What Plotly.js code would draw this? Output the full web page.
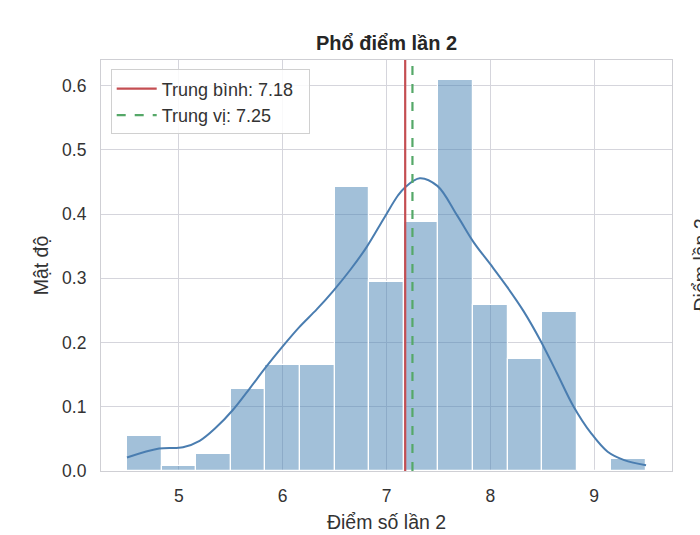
<!DOCTYPE html>
<html>
<head>
<meta charset="utf-8">
<script src="https://cdn.plot.ly/plotly-3.0.1.min.js"></script>
<style>
  html, body { margin: 0; padding: 0; background: #fff; }
  #chart { width: 700px; height: 535px; }
</style>
</head>
<body>
<div id="chart"></div>
<script>
// Phổ điểm lần 2 - histogram (mật độ) + KDE
var binCenters = [4.667, 5.0, 5.333, 5.667, 6.0, 6.333, 6.667, 7.0,
                  7.333, 7.667, 8.0, 8.333, 8.667, 9.0, 9.333];
var binDensity = [0.054, 0.008, 0.027, 0.128, 0.165, 0.165, 0.443, 0.294,
                  0.387, 0.609, 0.258, 0.175, 0.248, 0.0, 0.018];
var binWidth = 1 / 3;

var kdeX = [4.50, 4.81, 5.04, 5.20, 5.36, 5.52, 5.68, 5.84, 6.00, 6.16, 6.33,
            6.49, 6.65, 6.81, 6.97, 7.11, 7.18, 7.32, 7.49, 7.68, 7.84, 8.00,
            8.16, 8.32, 8.48, 8.64, 8.80, 8.97, 9.13, 9.29, 9.50];
var kdeY = [0.021, 0.035, 0.037, 0.047, 0.068, 0.095, 0.128, 0.162, 0.194, 0.224, 0.252,
            0.281, 0.313, 0.349, 0.392, 0.429, 0.442, 0.456, 0.444, 0.398, 0.356, 0.322,
            0.287, 0.249, 0.204, 0.153, 0.101, 0.059, 0.030, 0.017, 0.009];

var meanValue = 7.18;
var medianValue = 7.25;
var yMax = 0.64;

var hist = {
  x: binCenters,
  y: binDensity,
  width: binCenters.map(function () { return binWidth; }),
  type: 'bar',
  showlegend: false,
  hoverinfo: 'x+y',
  marker: {
    color: 'rgba(70, 130, 180, 0.5)',
    line: { color: '#ffffff', width: 1.2 }
  }
};

var kde = {
  x: kdeX,
  y: kdeY,
  type: 'scatter',
  mode: 'lines',
  line: { color: '#4a7db0', width: 2, shape: 'spline', smoothing: 1 },
  showlegend: false,
  hoverinfo: 'none'
};

var meanLine = {
  x: [meanValue, meanValue],
  y: [0, yMax],
  type: 'scatter',
  mode: 'lines',
  name: 'Trung bình: ' + meanValue.toFixed(2) + '  ',
  line: { color: '#c44e52', width: 2.2 }
};

var medianLine = {
  x: [medianValue, medianValue],
  y: [0, yMax],
  type: 'scatter',
  mode: 'lines',
  name: 'Trung vị: ' + medianValue.toFixed(2),
  line: { color: '#55a868', width: 2.2, dash: 'dash' }
};

var data = [hist, kde, meanLine, medianLine];

var layout = {
  width: 700,
  height: 535,
  font: { family: 'Liberation Sans, Arial, sans-serif', color: '#333333', size: 17 },
  paper_bgcolor: '#ffffff',
  plot_bgcolor: '#ffffff',
  bargap: 0,
  title: {
    text: '<b>Phổ điểm lần 2</b>',
    font: { size: 20, color: '#262626' },
    x: 0.5,
    xref: 'paper',
    xanchor: 'center',
    y: 1 - 43 / 535,
    yanchor: 'middle'
  },
  margin: { l: 101, r: 28, t: 60, b: 64 },
  xaxis: {
    range: [4.25, 9.75],
    tickvals: [5, 6, 7, 8, 9],
    ticks: '',
    ticklabelstandoff: 9,
    showgrid: true,
    gridcolor: '#d5d5dc',
    gridwidth: 1,
    zeroline: false,
    showline: true,
    linecolor: '#cfcfd4',
    linewidth: 1.2,
    mirror: true,
    tickfont: { size: 17.5 },
    title: { text: 'Điểm số lần 2', font: { size: 19.5 }, standoff: 10 }
  },
  yaxis: {
    range: [0, yMax],
    tickvals: [0, 0.1, 0.2, 0.3, 0.4, 0.5, 0.6],
    tickformat: '.1f',
    ticks: '',
    ticklabelstandoff: 10,
    showgrid: true,
    gridcolor: '#d5d5dc',
    gridwidth: 1,
    zeroline: false,
    showline: true,
    linecolor: '#cfcfd4',
    linewidth: 1.2,
    mirror: true,
    tickfont: { size: 17.5 },
    title: { text: 'Mật độ', font: { size: 19.5 }, standoff: 8 }
  },
  legend: {
    x: 0.017,
    y: 0.977,
    xanchor: 'left',
    yanchor: 'top',
    bgcolor: 'rgba(255,255,255,0.85)',
    bordercolor: '#d0d0d0',
    borderwidth: 1,
    itemwidth: 40,
    font: { size: 18, color: '#333333' }
  },
  annotations: [{
    text: 'Điểm lần 2',
    xref: 'paper',
    yref: 'paper',
    x: 1 + 28 / 571,
    y: 0.5,
    xanchor: 'center',
    yanchor: 'middle',
    textangle: -90,
    showarrow: false,
    font: { size: 19.5, color: '#333333' }
  }]
};

var config = {
  responsive: false,
  displayModeBar: false
};

Plotly.newPlot('chart', data, layout, config);
</script>
</body>
</html>
